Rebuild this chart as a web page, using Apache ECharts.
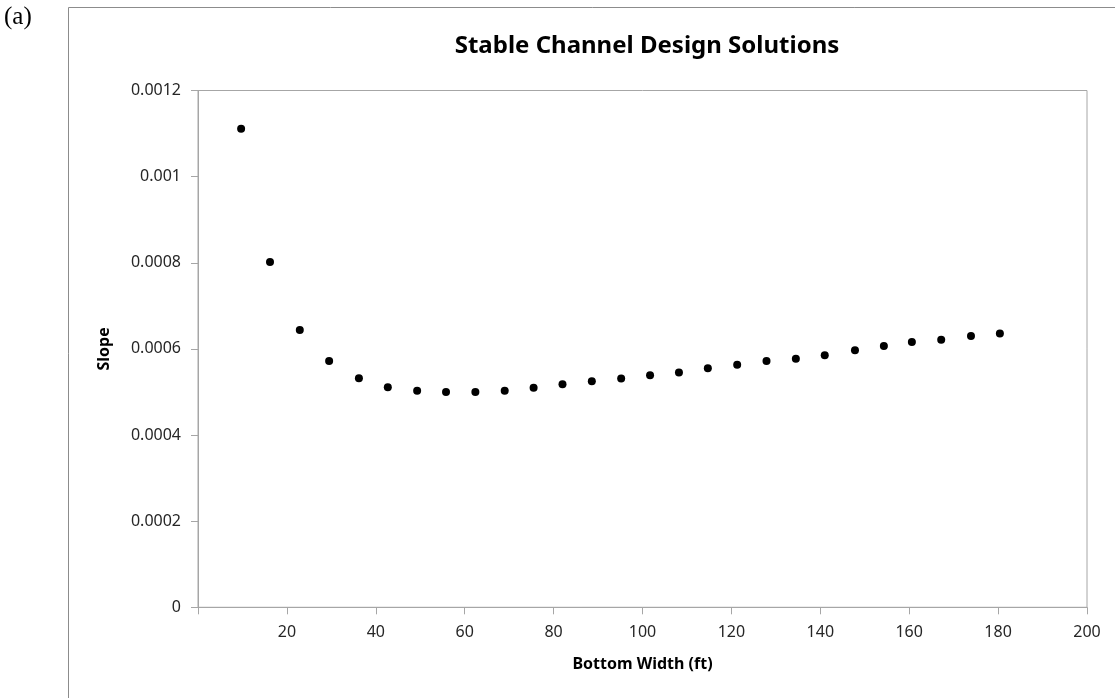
<!DOCTYPE html>
<html>
<head>
<meta charset="utf-8">
<script src="https://cdn.jsdelivr.net/npm/echarts@6/dist/echarts.min.js"></script>
<style>
html,body{margin:0;padding:0;background:#fff;}
#chart{width:1115px;height:698px;}
</style>
</head>
<body>
<div id="chart"></div>
<script>
// Data
const bottomWidth = [9.7, 16.2, 22.9, 29.5, 36.2, 42.7, 49.3, 55.8, 62.4, 69.0, 75.5, 82.0, 88.6, 95.2, 101.7, 108.2, 114.7, 121.3, 127.9, 134.5, 141.0, 147.8, 154.3, 160.6, 167.2, 173.9, 180.4];
const slope = [0.001111, 0.000802, 0.000644, 0.000572, 0.000532, 0.000511, 0.000503, 0.000500, 0.000500, 0.000503, 0.000510, 0.000518, 0.000525, 0.000531, 0.000539, 0.000545, 0.000555, 0.000563, 0.000572, 0.000577, 0.000585, 0.000597, 0.000607, 0.000616, 0.000621, 0.000630, 0.000636];
const chartTitle = 'Stable Channel Design Solutions';
const xTitle = 'Bottom Width (ft)';
const yTitle = 'Slope';
const panelLabel = '(a)';

const points = bottomWidth.map((x, i) => [x, slope[i]]);
const axisGray = '#a6a6a6';
const textColor = '#262626';
const font = 'Noto Sans';

const chart = echarts.init(document.getElementById('chart'));
chart.setOption({
  backgroundColor: '#fff',
  animation: false,
  title: {
    text: chartTitle,
    left: 642,
    top: 29,
    textAlign: 'center',
    textStyle: { fontFamily: font, fontWeight: 'bold', fontSize: 24, color: '#000' }
  },
  graphic: [
    {
      type: 'rect',
      shape: { x: 68.5, y: 7.5, width: 1200, height: 800 },
      style: { fill: 'none', stroke: '#8c8c8c', lineWidth: 1 },
      z: -1
    },
    {
      type: 'text',
      left: 4,
      top: 5,
      style: { text: panelLabel, font: '25px "Liberation Serif"', fill: '#000' }
    }
  ],
  grid: {
    left: 198,
    right: 28,
    top: 90.5,
    bottom: 90.7,
    show: true,
    borderColor: axisGray,
    borderWidth: 1,
    containLabel: false
  },
  xAxis: {
    type: 'value',
    min: 0,
    max: 200,
    interval: 20,
    name: xTitle,
    nameLocation: 'middle',
    nameGap: 49,
    nameTextStyle: { fontFamily: font, fontWeight: 'bold', fontSize: 16, color: '#000' },
    axisLine: { show: true, lineStyle: { color: axisGray, width: 1 } },
    axisTick: { show: true, inside: false, length: 7, lineStyle: { color: axisGray } },
    axisLabel: {
      margin: 17,
      fontFamily: font, fontSize: 16, color: textColor,
      formatter: v => (v === 0 ? '' : String(v))
    },
    splitLine: { show: false }
  },
  yAxis: {
    type: 'value',
    min: 0,
    max: 0.0012,
    interval: 0.0002,
    name: yTitle,
    nameLocation: 'middle',
    nameRotate: 90,
    nameGap: 86,
    nameTextStyle: { fontFamily: font, fontWeight: 'bold', fontSize: 16, color: '#000' },
    axisLine: { show: true, lineStyle: { color: axisGray, width: 1 } },
    axisTick: { show: true, inside: false, length: 7, lineStyle: { color: axisGray } },
    axisLabel: {
      margin: 17,
      fontFamily: font, fontSize: 16, color: textColor,
      formatter: v => String(+v.toFixed(4))
    },
    splitLine: { show: false }
  },
  series: [{
    type: 'scatter',
    data: points,
    symbol: 'circle',
    symbolSize: 8,
    itemStyle: { color: '#000', opacity: 1 }
  }]
});
</script>
</body>
</html>
